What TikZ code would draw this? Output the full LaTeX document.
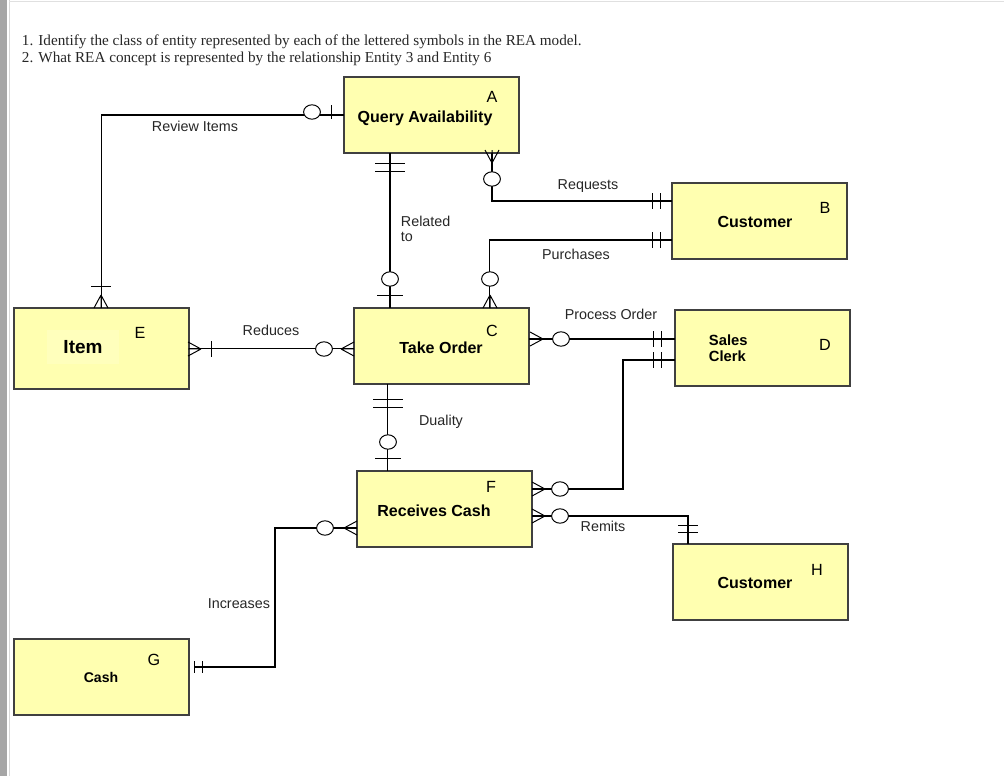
\documentclass[tikz,border=0pt]{standalone}
\usepackage{fontspec}
\setmainfont{Liberation Serif}
\setsansfont{Liberation Sans}
\usetikzlibrary{calc}
\definecolor{boxfill}{HTML}{FFFFB0}
\definecolor{boxline}{HTML}{404040}
\definecolor{itemfill}{HTML}{FFFFBC}

\begin{document}
\begin{tikzpicture}[x=0.025cm, y=-0.025cm,
  entity/.style={draw=boxline, fill=boxfill, line width=1.1pt, anchor=north west,
    inner sep=0pt, outer sep=0pt, minimum width=4.375cm, minimum height=1.9cm},
  title/.style={font=\sffamily\bfseries\fontsize{11.4}{13}\selectfont},
  letter/.style={font=\sffamily\fontsize{11.5}{13}\selectfont},
  rel/.style={font=\sffamily\fontsize{10.2}{10.7}\selectfont, text=black!85},
  ask/.style={anchor=base west, font=\fontsize{10.8}{12}\selectfont, text=black!85},
  link/.style={line width=1pt},
  tick/.style={line width=0.7pt},
  ring/.style={tick, fill=white, x radius=0.21cm, y radius=0.18cm},
  pics/crow/.style={code={\draw[tick] (-13,0) -- (0,-7) (-13,0) -- (0,0) (-13,0) -- (0,7);}},
  pics/bar/.style={code={\draw[tick] (0,-#1) -- (0,#1);}},
]
  \useasboundingbox (0,0) rectangle (1004,776);
  % page frame
  \fill[black!35] (0,0) rectangle (7,776);
  \draw[black!15] (9,0) -- (9,776);
  \draw[black!12] (9,1) -- (1004,1);

  % questions
  \node[ask] (q1) at (17,45) {1. Identify the class of entity represented by each of the lettered symbols in the REA model.};
  \node[ask] (q2) at (17,62) {2. What REA concept is represented by the relationship Entity 3 and Entity 6};

  % entities
  \node[entity] (A) at (344,77) {};
  \node[entity] (B) at (672,183) {};
  \node[entity, minimum height=2.025cm] (E) at (14,308) {};
  \node[entity] (C) at (354,308) {};
  \node[entity] (D) at (675,310) {};
  \node[entity] (F) at (357,471) {};
  \node[entity] (H) at (673,544) {};
  \node[entity] (G) at (14,639) {};

  \node[title] (A name) at (425,118) {Query Availability};
  \node[letter] at (492,97) {A};
  \node[title] (B name) at (755,222) {Customer};
  \node[letter] at (825,208) {B};
  \node[title, fill=itemfill, font=\sffamily\bfseries\fontsize{13.5}{15}\selectfont,
    minimum width=1.8cm, minimum height=0.85cm] (E name) at (83,347) {Item};
  \node[letter] at (140,333) {E};
  \node[title] (C name) at (441,348) {Take Order};
  \node[letter] at (492,331) {C};
  \node[title, align=left, anchor=west, font=\sffamily\bfseries\fontsize{10.5}{11}\selectfont]
    (D name) at (704,348) {Sales\\Clerk};
  \node[letter] at (825,345) {D};
  \node[title] (F name) at (434,511) {Receives Cash};
  \node[letter] at (491,487) {F};
  \node[title] (H name) at (755,583) {Customer};
  \node[letter] at (817,570) {H};
  \node[title, font=\sffamily\bfseries\fontsize{10}{12}\selectfont] (G name) at (101,677) {Cash};
  \node[letter] at (154,660) {G};

  % relationships
  \draw[link] (A.west) -| (E.north);
  \draw[link] ($(A.south)+(-41.5,0)$) coordinate (rt) -- (rt |- C.north);
  \draw[link] ($(A.south)+(60.5,0)$) |- ($(B.west)+(0,-20)$);
  \draw[link] ($(C.north)+(48,0)$) |- ($(B.west)+(0,19)$);
  \draw[link] (E.east) -- (E.east -| C.west);
  \draw[link] ($(C.east)+(0,-7)$) coordinate (po) -- (po -| D.west);
  \draw[link] ($(D.west)+(0,12)$) -- ++(-52,0) |- ($(F.east)+(0,-20)$);
  \draw[link] ($(C.south)+(-54,0)$) coordinate (du) -- (du |- F.north);
  \draw[link] ($(F.east)+(0,7)$) -| ($(H.north)+(-72.5,0)$);
  \draw[link] ($(F.west)+(0,19)$) -- ++(-82,0) |- ($(G.east)+(5,-10)$);

  % cardinalities
  \draw[ring] (312,112) circle;
  \pic at (331,112) {bar=7};
  \pic[rotate=90] at (101,286) {bar=10};
  \pic[rotate=-90] at (101,308) {crow};

  \pic[rotate=90] at (390,163) {bar=15};
  \pic[rotate=90] at (390,171) {bar=15};
  \draw[ring] (390,279) circle;
  \pic[rotate=90] at (390,295) {bar=13};

  \pic[rotate=90] at (492,150) {crow};
  \draw[ring] (492,179) circle;
  \pic at (652,201) {bar=8};
  \pic at (660,201) {bar=8};

  \pic[rotate=-90] at (490,308) {crow};
  \draw[ring] (490,279) circle;
  \pic at (652,240) {bar=8};
  \pic at (660,240) {bar=8};

  \pic[rotate=180] at (188,349) {crow};
  \pic at (211,349) {bar=8};
  \draw[ring] (324,349) circle;
  \pic at (354,349) {crow};

  \pic[rotate=180] at (530,339) {crow};
  \draw[ring] (561,339) circle;
  \pic at (653,339) {bar=8};
  \pic at (661,339) {bar=8};

  \pic at (653,360) {bar=8};
  \pic at (661,360) {bar=8};
  \draw[ring] (560,489) circle;
  \pic[rotate=180] at (532,489) {crow};

  \pic[rotate=90] at (388,399) {bar=15};
  \pic[rotate=90] at (388,407) {bar=15};
  \draw[ring] (388,442) circle;
  \pic[rotate=90] at (388,458) {bar=13};

  \pic[rotate=180] at (532,516) {crow};
  \draw[ring] (560,516) circle;
  \pic[rotate=90] at (688,525) {bar=10};
  \pic[rotate=90] at (688,532) {bar=10};

  \pic at (357,528) {crow};
  \draw[ring] (325,528) circle;
  \pic at (194,667) {bar=6};
  \pic at (202,667) {bar=6};

  % relationship names
  \node[rel] (review) at (195,126) {Review Items};
  \node[rel, align=left, anchor=north west] (related) at (396,211) {Related\\to};
  \node[rel] (requests) at (588,186) {Requests};
  \node[rel] (purchases) at (576,254) {Purchases};
  \node[rel] (reduces) at (271,330) {Reduces};
  \node[rel] (process) at (611,314) {Process Order};
  \node[rel] (duality) at (441,422) {Duality};
  \node[rel] (remits) at (603,526) {Remits};
  \node[rel, anchor=east] (increases) at (275,604) {Increases};
\end{tikzpicture}
\end{document}
